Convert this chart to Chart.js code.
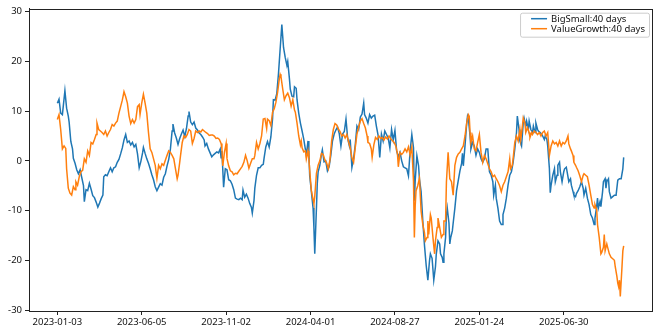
<!DOCTYPE html>
<html><head><meta charset="utf-8">
<script src="https://cdn.jsdelivr.net/npm/chart.js@4.4.0/dist/chart.umd.min.js"></script>
<style>html,body{margin:0;padding:0;background:#fff;}canvas{display:block;}</style>
</head><body>
<canvas id="c" width="659" height="330"></canvas>
<script>
// trading-day index of each labelled tick and its date
const tickDays = [0,100,200,300,400,500,600];
const tickDates = ['2023-01-03','2023-06-05','2023-11-02','2024-04-01','2024-08-27','2025-01-24','2025-06-30'];
const yTicks = [-30,-20,-10,0,10,20,30];
const seriesNames = ['BigSmall:40 days','ValueGrowth:40 days'];

// BigSmall: trading-day index and value
const bsDays = [
0,2,4,6,9,11,13,14,16,18, 19,21,23,25,27,29,31,32,34,36, 38,40,42,44,46,48,50,52,54,55,
57,59,61,63,65,67,69,71,73,75, 77,79,81,83,85,87,89,91,93,95, 97,99,101,102,104,106,108,110,112,114,
116,118,120,122,124,126,128,130,132,134, 136,137,139,141,143,145,147,149,151,153, 155,156,158,160,162,164,166,168,170,172,
174,175,177,179,181,183,185,187,189,191, 193,194,195,197,199,201,203,205,207,209, 211,213,215,217,219,220,222,224,226,228,
230,231,233,234,236,238,240,242,244,245, 247,249,251,253,255,256,258,260,262,264, 266,268,270,272,273,275,276,278,280,281,
283,284,286,288,290,292,294,295,297,298, 299,301,303,304,305,307,308,309,311,313, 314,316,318,320,322,324,326,328,330,332,
334,336,338,340,342,344,346,347,349,351, 353,355,357,359,361,363,364,366,368,370, 372,374,376,378,380,382,384,386,388,390,
392,394,396,398,400,402,404,406,408,410, 412,414,416,418,420,422,423,424,426,428, 429,431,433,435,437,439,441,442,444,446,
448,449,451,453,454,456,457,458,460,461, 462,464,465,466,468,469,471,473,475,477, 479,480,481,483,484,485,486,487,489,490,
492,494,496,498,500,502,504,506,508,510, 512,514,516,517,519,520,522,524,526,527, 528,530,532,534,536,538,540,542,544,545,
547,548,550,552,553,555,556,558,559,561, 563,564,566,567,569,570,572,574,575,577, 578,580,581,583,584,585,587,589,590,592,
593,595,596,598,600,601,603,604,606,608, 609,611,612,614,615,617,619,621,623,624, 626,628,630,632,634,636,637,639,640,641,
643,644,646,647,649,650,651,653,654,656, 658,660,662,664,666,668,670,671
];
const bsVals = [
11.6,12.4,9.6,9.3,14.1,10.6,9.0,7.8,3.9,2.4, 0.5,-0.5,-1.8,-2.6,-1.8,-3.4,-5.0,-8.2,-5.8,-6.0, -4.5,-5.7,-7.0,-7.4,-8.3,-9.3,-8.5,-7.6,-6.9,-3.2,
-2.8,-3.0,-2.2,-1.4,-2.2,-1.4,-1.2,-0.3,0.3,1.4, 2.6,4.2,5.3,3.7,4.0,3.2,3.7,2.8,3.3,1.4, -1.4,-0.1,1.6,2.7,1.5,0.4,-0.5,-1.6,-2.8,-3.8,
-5.2,-6.0,-5.3,-4.6,-4.9,-3.3,-2.6,-1.0,0.3,2.4, 6.0,7.4,5.6,4.6,3.3,4.5,5.4,6.2,4.9,6.5, 9.0,9.9,7.8,7.3,7.8,6.6,6.2,5.6,5.3,4.8,
4.2,3.0,3.5,2.4,1.6,0.8,1.2,1.5,1.8,1.6, 2.4,0.6,2.0,-5.3,-1.6,-1.8,-3.8,-4.0,-4.7,-5.8, -7.5,-7.7,-7.8,-7.5,-7.8,-5.9,-7.3,-6.7,-7.5,-8.6,
-9.4,-10.5,-8.0,-5.5,-2.9,-1.4,-1.4,-0.9,-0.7,0.6, 2.8,3.9,2.8,4.8,8.5,12.3,12.2,13.5,17.5,22.5, 27.4,22.8,20.8,19.2,20.0,16.5,14.4,13.0,12.9,14.9,
14.6,12.3,9.6,7.6,6.0,4.3,2.2,1.1,4.0,1.7, -3.0,-6.2,-9.5,-13.4,-18.7,-9.5,-4.5,-2.2,-0.9,1.4, 2.2,-0.2,0.0,-2.0,-1.2,1.1,4.0,5.4,6.2,6.8,
5.5,3.0,5.4,5.9,8.4,4.5,3.0,4.3,-1.3,0.5, 3.2,7.0,6.3,8.8,9.4,11.6,9.3,8.6,7.6,9.3, 8.6,9.0,9.2,7.0,5.2,0.7,5.4,4.0,6.0,5.3,
4.6,2.6,6.3,4.2,6.1,2.0,0.8,1.7,0.0,-1.2, -1.4,-1.6,-3.0,2.0,5.3,2.6,-8.0,-4.0,1.0,-1.0, -3.6,-6.2,-12.1,-17.0,-21.0,-24.0,-20.0,-18.7,-19.6,-24.0,
-21.3,-18.7,-16.1,-16.7,-18.7,-19.4,-20.4,-18.7,-15.4,-11.0, -9.5,-12.5,-16.7,-15.5,-14.1,-12.5,-9.5,-6.0,-4.0,-2.0, -0.5,1.5,-1.0,3.0,5.3,7.5,9.0,8.5,5.0,2.4,
3.7,3.0,1.1,2.4,1.7,0.4,-0.3,0.4,2.4,2.4, -2.2,-2.9,-4.2,-6.9,-4.9,-7.5,-9.5,-12.1,-12.8,-12.8, -10.8,-9.5,-7.5,-4.9,-2.9,-2.2,-0.3,2.4,5.7,9.0,
6.3,4.0,3.0,7.6,8.6,7.0,8.0,6.3,8.0,6.3, 5.7,7.0,5.7,7.6,6.3,6.0,5.7,5.3,5.0,4.3, 5.0,4.3,3.0,-1.6,-6.4,-4.9,-2.9,-1.6,-4.2,-2.9,
-0.9,-0.3,-2.2,-4.2,-2.2,-1.6,-1.3,-2.2,-4.2,-3.6, -4.9,-6.2,-6.9,-7.2,-6.6,-6.0,-5.2,-4.2,-5.5,-6.9, -5.5,-7.5,-8.8,-10.8,-11.5,-12.8,-11.5,-9.2,-7.5,-9.5,
-8.2,-9.2,-6.2,-4.2,-3.6,-5.5,-4.2,-3.6,-6.2,-7.5, -7.2,-6.9,-6.9,-3.9,-3.6,-3.6,-1.6,0.7
];

// ValueGrowth: trading-day index and value
const vgDays = [
0,2,4,6,8,10,11,13,15,17, 19,21,22,24,26,28,30,32,34,36, 38,40,42,44,46,47,49,51,53,55,
57,59,61,63,65,67,69,71,73,75, 77,79,81,83,85,87,89,91,93,95, 97,98,100,102,104,106,108,110,112,114,
116,118,120,122,124,126,128,130,132,134, 136,138,140,142,143,145,146,148,150,152, 154,156,158,160,162,164,166,168,170,172,
174,176,178,180,182,184,186,188,190,192, 194,195,196,198,200,201,203,205,207,209, 211,213,215,217,219,221,223,225,227,229,
231,233,234,236,238,240,242,244,246,248, 249,251,253,255,257,259,261,263,264,265, 267,269,271,273,275,277,279,281,282,284,
286,288,289,290,292,294,295,297,298,300, 301,303,304,305,307,309,311,313,315,317, 319,321,323,325,327,329,331,333,335,337,
339,341,343,345,347,349,351,353,355,357, 359,361,363,365,367,368,370,372,373,375, 377,379,381,383,385,387,389,391,393,395,
397,399,401,403,404,406,408,410,412,414, 416,418,420,422,423,424,425,427,429,431, 433,435,436,438,439,440,442,443,445,447,
448,450,451,453,455,457,458,460,461,463, 465,467,469,471,473,475,477,479,481,483, 485,487,488,489,490,492,494,496,498,500,
502,504,506,508,510,512,514,516,518,520, 522,524,526,528,530,532,534,536,537,539, 540,542,544,546,548,549,551,552,554,555,
557,559,560,562,563,565,567,569,571,573, 575,577,579,581,583,585,587,589,591,593, 595,597,599,601,603,605,606,608,609,611,
612,614,615,617,619,621,623,624,626,628, 630,632,634,636,637,639,640,642,644,645, 647,648,649,651,652,654,656,658,660,661,
663,664,665,666,667,669,670,671
];
const vgVals = [
8.3,9.3,6.3,2.4,3.0,2.5,-1.6,-5.5,-6.5,-6.9, -5.2,-5.8,-4.2,-4.9,-3.2,-2.2,-1.9,0.4,-0.3,2.0, 1.1,3.7,3.4,4.3,5.3,7.6,6.3,6.0,5.7,5.3,
6.0,5.0,5.7,6.3,7.3,7.0,7.6,8.0,9.6,10.9, 12.2,13.9,12.9,11.6,9.0,7.5,8.3,7.6,8.3,10.9, 11.3,9.3,11.6,13.4,11.6,9.6,5.7,2.4,1.7,0.4,
-0.9,-3.5,-0.9,-1.6,-0.6,-0.9,0.1,1.1,2.0,1.7, 1.1,0.4,-1.6,-3.6,-2.9,-0.3,1.1,3.7,5.0,4.7, 5.3,6.3,6.0,3.5,4.5,6.0,5.7,6.0,5.8,6.3,
6.0,5.7,5.5,5.1,5.2,5.2,5.0,4.5,4.6,4.3, 3.5,2.4,-1.0,1.7,3.5,0.5,-1.0,-2.0,-2.2,-2.8, -2.5,-2.6,-2.1,-1.6,-1.1,-0.3,1.1,0.0,-1.5,-0.5,
0.4,0.4,1.1,3.7,2.4,3.5,5.0,8.4,8.5,6.5, 8.4,8.1,7.1,9.8,10.5,11.8,13.8,16.5,17.4,16.9, 14.5,12.3,13.1,13.6,12.7,11.0,12.3,10.2,9.8,7.6,
5.0,3.2,4.0,2.6,1.8,2.0,0.4,2.0,0.4,-4.0, -6.0,-7.8,-8.6,-7.2,-2.5,-0.9,0.0,1.5,1.3,0.2, -0.4,-1.6,0.2,4.0,6.3,7.5,7.2,6.4,5.9,5.0,
5.3,4.6,5.3,3.9,2.6,0.6,-0.3,2.7,5.4,6.8, 8.0,8.5,7.5,6.6,5.0,3.7,3.5,2.4,0.7,3.2, 4.7,4.3,5.0,4.5,4.7,4.2,4.8,4.4,5.0,4.4,
4.1,3.7,3.0,1.4,-1.2,1.7,1.3,1.7,2.4,1.8, 2.8,1.2,2.8,-4.2,-15.4,-9.0,-6.0,-5.0,-3.5,-10.1, -12.8,-14.5,-16.1,-15.4,-12.1,-14.8,-10.8,-11.5,-15.4,-18.7,
-16.1,-13.4,-11.5,-13.4,-15.4,-14.8,-12.1,-12.1,-4.2,1.7, -3.6,-4.2,-6.9,-0.9,0.7,1.4,1.7,2.4,3.0,5.0, 7.6,9.3,9.0,5.7,3.7,5.0,2.4,2.0,3.7,5.3,
1.7,-0.3,1.1,0.4,-0.6,-1.6,-2.2,-3.2,-2.9,-3.6, -4.2,-5.0,-6.2,-4.9,-4.2,-3.2,-2.2,0.4,-1.6,-0.9, 0.4,3.7,5.0,4.0,6.3,4.3,7.0,8.6,7.6,5.7,
6.7,5.7,4.7,5.7,5.3,6.0,5.7,5.3,5.7,5.0, 5.7,6.0,5.0,5.7,1.1,3.0,4.0,3.4,3.7,3.0, 4.0,3.0,3.7,3.4,4.0,5.0,3.4,2.4,2.0,1.1,
-0.3,-0.9,-1.3,-2.0,-3.0,-4.2,-2.9,-2.6,-2.9,-3.2, -4.9,-6.9,-8.8,-9.5,-8.8,-9.8,-12.8,-15.4,-18.7,-18.4, -17.4,-14.8,-18.1,-16.7,-17.4,-18.7,-19.4,-19.7,-20.0,-21.3,
-23.3,-24.6,-25.3,-24.0,-27.3,-21.3,-18.1,-17.1
];

const toPoints = (days, vals) => days.map((d, k) => ({x: d, y: vals[k]}));
const FONT = '"Noto Sans", "DejaVu Sans", sans-serif';

const frameAndLegend = {
  id: 'frameAndLegend',
  beforeDraw(chart) {
    const {ctx} = chart;
    ctx.save();
    ctx.fillStyle = '#fff';
    ctx.fillRect(0, 0, chart.width, chart.height);
    ctx.restore();
  },
  afterDraw(chart) {
    const {ctx, chartArea: a} = chart;
    ctx.save();
    ctx.strokeStyle = '#222';
    ctx.lineWidth = 1;
    ctx.strokeRect(Math.round(a.left) + 0.5, Math.round(a.top) + 0.5, Math.round(a.right - a.left), Math.round(a.bottom - a.top));
    // legend
    ctx.font = '9.5px ' + FONT;
    const ds = chart.data.datasets;
    const tw = Math.max(...ds.map(d => ctx.measureText(d.label).width));
    const padL = 11, lineLen = 16, gap = 4, padR = 4;
    const w = padL + lineLen + gap + tw + padR;
    const h = 24;
    const right = a.right - 3, top = a.top + 4, left = right - w;
    ctx.fillStyle = 'rgba(255,255,255,0.85)';
    ctx.strokeStyle = '#cccccc';
    ctx.beginPath();
    ctx.roundRect(left + 0.5, top + 0.5, w, h, 2);
    ctx.fill();
    ctx.stroke();
    ds.forEach((d, k) => {
      const cy = top + 6 + k * 10;
      ctx.strokeStyle = d.borderColor;
      ctx.lineWidth = 1.5;
      ctx.beginPath();
      ctx.moveTo(left + padL, cy);
      ctx.lineTo(left + padL + lineLen, cy);
      ctx.stroke();
      ctx.fillStyle = '#111';
      ctx.textBaseline = 'middle';
      ctx.textAlign = 'left';
      ctx.fillText(d.label, left + padL + lineLen + gap, cy + 0.5);
    });
    ctx.restore();
  }
};

new Chart(document.getElementById('c'), {
  type: 'line',
  data: {
    datasets: [
      {label: seriesNames[0], data: toPoints(bsDays, bsVals), borderColor: '#1f77b4', backgroundColor: '#1f77b4', borderWidth: 1.5, pointRadius: 0, tension: 0, fill: false, order: 1},
      {label: seriesNames[1], data: toPoints(vgDays, vgVals), borderColor: '#ff7f0e', backgroundColor: '#ff7f0e', borderWidth: 1.5, pointRadius: 0, tension: 0, fill: false, order: 0}
    ]
  },
  options: {
    responsive: false,
    devicePixelRatio: 1,
    animation: false,
    layout: {padding: {top: 5, right: 7, left: 0, bottom: 0}},
    plugins: {legend: {display: false}, tooltip: {enabled: false}},
    scales: {
      x: {
        type: 'linear', min: -33.55, max: 704.55,
        afterBuildTicks: s => { s.ticks = tickDays.map(v => ({value: v})); },
        afterFit: s => { s.height = 19; },
        ticks: {callback: v => tickDates[tickDays.indexOf(v)] ?? '', autoSkip: false, maxRotation: 0, padding: 2, color: '#111', font: {family: FONT, size: 9.5}},
        grid: {drawOnChartArea: false, drawTicks: true, tickLength: 4, color: '#222', lineWidth: 1},
        border: {display: true, color: '#222', width: 1}
      },
      y: {
        min: -30.2, max: 30.6,
        afterBuildTicks: s => { s.ticks = yTicks.map(v => ({value: v})); },
        afterFit: s => { s.width = 29; },
        ticks: {padding: 3, color: '#111', font: {family: FONT, size: 9.5}},
        grid: {drawOnChartArea: false, drawTicks: true, tickLength: 4, color: '#222', lineWidth: 1},
        border: {display: true, color: '#222', width: 1}
      }
    }
  },
  plugins: [frameAndLegend]
});
</script>
</body></html>
